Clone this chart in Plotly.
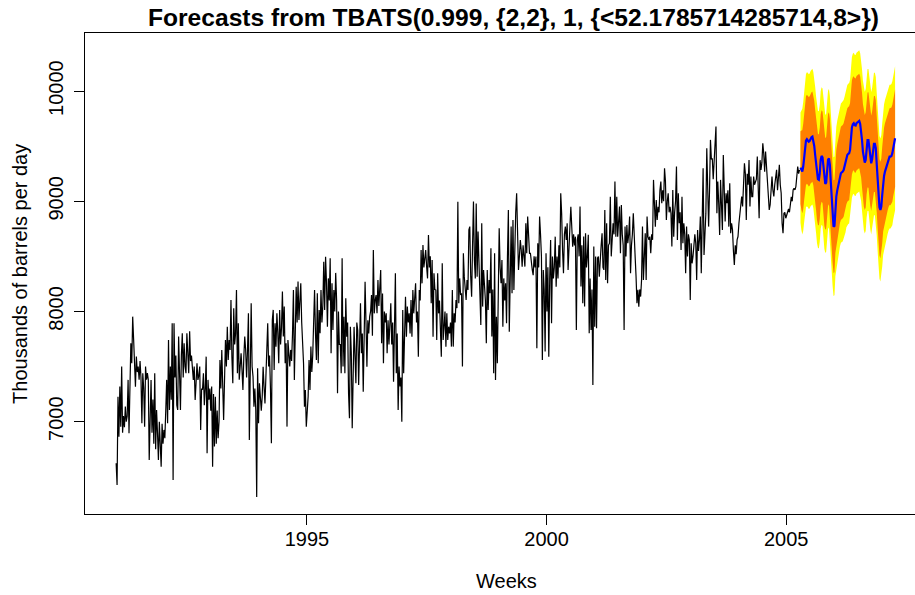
import plotly.graph_objects as go

# ---- data ----
t0 = 1991.02
freq = 52.18

gasoline = [
    6622, 6426, 7227, 6864, 7318, 6955, 7500, 6900, 7050, 6950, 7137, 7000, 7050,
    7379, 6895, 7300, 7711, 7530, 7953, 7750, 7530,
    7318, 7590, 7450, 7500, 7380, 7550,
    7400, 6985, 7440, 7300, 6955, 7500, 7380, 7440,
    7379, 6653, 7150, 7379, 6900, 7200, 6800,
    7439, 6750, 7106, 6900, 6653, 7000, 6850,
    6592, 6980, 6800, 6925, 6850, 7100,
    7379, 6985, 7741, 7106, 7500, 7200,
    7893, 6471, 7893, 7400, 7600, 7150,
    7106, 7772, 7300, 7106, 7600, 7802, 7400,
    7711, 7500, 7439, 7802, 7600, 7439, 7820, 7550, 7600, 7439,
    7379, 7500, 7197, 7350, 7530, 7379, 7420,
    7500, 6925, 7300, 7290, 7439, 7150, 7300,
    7590, 6713, 7379, 7200, 7300, 7100,
    7318, 6592, 7250, 6774, 7227, 6800, 7100, 6850, 7000,
    # 1993 - 1995
    7560, 7300, 7651, 7288, 7015, 7380,
    7741, 7500, 7862, 7560, 7741, 7650, 8104,
    7590, 7348, 8029, 7700, 7800,
    8195, 7440, 7893, 7380, 7560, 7620,
    7469, 7288, 7590, 7772, 7650, 7400,
    7651, 7983, 6834, 7700, 8074,
    7500, 7409, 7136, 7300, 7106,
    6316, 7484, 6985, 7348, 7200, 7100,
    7227, 7499, 7318, 7166, 7400,
    7711, 7893, 7500, 7600, 7300, 6804,
    7923, 8014, 7469, 7893, 7680,
    7983, 7800, 7530, 8014, 7700, 7850,
    8180, 7772, 8044, 7530, 7711,
    6955, 7741, 7620, 7500, 7651, 7550, 7800,
    8195, 7378, 8014, 8225, 7900,
    8271, 7923, 8150, 8256, 7900, 7700,
    7530, 7136, 7288, 6955, 7100,
    7227, 7560, 7288, 7681, 7450, 7600,
    7832, 8195, 7802, 7560,
    8165, 7530, 8014, 7802, 8195, 7900, 8050,
    8452, 8014, 8497, 8256, 7862, 8300, 8100,
    8482, 7620, 8256, 7832, 8195, 8000, 8350,
    8104, 7257, 8000, 7700,
    # 1995 - 1998
    7700, 7439, 8482, 7500, 7953, 7440,
    8120, 7770, 7900, 7257, 7030,
    7862, 7620, 6940, 7650, 7860,
    7600, 7348, 7900, 7830, 7333, 7700,
    8074, 7620, 7800, 7272, 8074,
    8270, 7900, 7499, 7920, 7800, 7953,
    8000, 8150, 7780, 8558, 7983, 8100,
    8149, 7983, 8286, 8050, 8200,
    8376, 7711, 8164, 7530, 8000, 7900,
    7983, 7620, 7920, 7700, 7880,
    8074, 7700, 7900, 7363, 7900,
    8346, 7439, 7800, 7106, 7500, 7320,
    7400, 7000, 8013, 7439, 7800,
    8134, 7771, 8044, 7900, 7983, 7800,
    8104, 7771, 8195, 7983, 8100,
    8255, 7900, 8000, 7590, 8195, 8100,
    8558, 8255, 8603, 8400, 8500,
    8558, 8407, 8300, 8694, 8400, 8500,
    8074, 8467, 7771, 8346, 8200,
    8195, 7741, 8346, 7983, 8100, 7900,
    7590, 8437, 7741, 7862, 8000,
    7681, 7983, 7741, 7862, 7800, 7900,
    7681, 8195, 7681, 7983, 7900,
    8104, 8030, 8996, 8074, 8300, 8150,
    # 1998 - 2000
    8165, 7500, 8528, 8316, 8225,
    8104, 8286, 8195, 8740, 8770,
    8316, 8134, 8600, 8997, 8467, 8300,
    8980, 8316, 8725, 8400, 8195,
    7878, 8800, 8044, 8377, 8200,
    8100, 7711, 8377, 8014, 8286, 8165,
    8573, 7772, 8200, 7439, 8528,
    7378, 7953, 7530, 8200, 8755, 8400,
    8256, 8467, 7862, 8300, 8100,
    8256, 7893, 8500, 8921, 7817, 8600,
    8770, 8165, 8831, 8195, 8600,
    8900, 9072, 8649, 8377, 8500,
    8649, 8558, 8407, 8600, 8500, 8407,
    8800, 8528, 8861, 8600, 8528,
    8528, 8407, 8377, 8330, 8500, 8400,
    8498, 7666, 8619, 8400, 8861,
    8700, 8500, 7560, 8377, 8200, 7636,
    8528, 8000, 8400, 7590, 8300,
    8649, 7893, 8498, 8300, 8400,
    8679, 8225, 8498, 8300, 8600, 8400,
    9072, 8891, 8550, 8347, 8700,
    8770, 8649, 8800, 8377, 8650,
    8770, 8951, 8649, 8588, 8700, 8600,
    8679, 7832, 8649, 8700, 8500,
    # 2000 - 2003
    8952, 8226, 8600, 8074, 8680,
    8044, 8710, 8400, 8500, 8695,
    7802, 8300, 7832, 8200, 7333, 8589,
    7862, 8498, 7848, 8483, 8498,
    8316, 8498, 8600, 8710, 8400, 8377,
    8921, 8286, 8800, 8256, 8600,
    8619, 9042, 8500, 8634, 8800, 8700,
    9179, 8679, 9042, 8679, 8900,
    8952, 8528, 8967, 8700, 8600, 7832,
    8770, 8498, 8785, 8619, 8700,
    8861, 8347, 8600, 8700, 8891, 8600, 8500,
    8316, 8074, 8196, 8044, 8200,
    8135, 8286, 8770, 8286, 8500,
    8710, 8286, 8861, 8679, 8650, 8679,
    8528, 8700, 8650, 9194, 8900,
    8770, 9012, 8831, 8950, 8900, 9100,
    9179, 8982, 9100, 9000, 9300,
    9179, 8831, 9000, 9073, 8900, 8950,
    8891, 8589, 9103, 8679, 8900,
    9000, 9315, 8649, 9073, 8800, 8900,
    8558, 9042, 8619, 8800, 8700,
    8347, 8770, 8498, 8700, 8650,
    8105, 8619, 8437, 8500, 8580, 8700,
    8619, 8286, 8740, 8550, 8650,
    # 2003 - 2005
    8861, 8347, 8952, 9300, 8513,
    8700, 8890, 9481, 9200,
    8770, 9100, 9557, 9380,
    9390, 9200, 9360, 9500,
    9678, 8891, 9179, 8980,
    8695, 9194, 8900, 8740,
    9420, 9000, 8816, 9073,
    8982, 9100, 8770, 9164,
    8710, 8800, 8740, 8550,
    8422, 8600, 8519, 8650,
    8680, 8800, 8900, 8952,
    9043, 8952, 9100, 9345,
    9250, 8831, 9250, 9150,
    9375, 8952, 9224, 9043,
    9043, 9224, 9150, 9180,
    9200, 9405, 9100, 8846,
    9373, 9285, 9350, 9526,
    9434, 9269, 9451, 9300,
    9100, 9012, 8921, 8970,
    9179, 9224, 9100, 9043,
    9150, 9200, 9285, 9100,
    9250, 9330, 9150, 9073,
    8800, 8710, 8891, 8900,
    8846, 8870, 8891, 8930,
    8900, 8960, 9040, 9000,
    9102, 9118, 9103, 9133, 9200, 9315, 9250, 9284,
]

fc_mean = [
    9305, 9284, 9269, 9315, 9405, 9496, 9550, 9563, 9556, 9541,
    9547, 9569, 9581, 9587, 9556, 9502, 9420, 9330, 9239, 9200,
    9194, 9254, 9375, 9411, 9399, 9300, 9194, 9157, 9169, 9284,
    9375, 9390, 9330, 9178, 9012, 8861, 8770, 8776, 8951, 9042,
    9097, 9133, 9169, 9224, 9254, 9263, 9269, 9284, 9315, 9351,
    9399, 9420, 9430, 9436, 9466, 9587, 9671, 9699, 9708, 9690,
    9687, 9708, 9714, 9723, 9729, 9702, 9647, 9556, 9451, 9381,
    9351, 9375, 9496, 9556, 9556, 9481, 9390, 9345, 9381, 9460,
    9520, 9520, 9481, 9339, 9194, 9042, 8945, 8921, 8951, 9057,
    9163, 9230, 9269, 9300, 9321, 9360, 9390, 9405, 9405, 9411,
    9436, 9490, 9541, 9572,
]

half95 = [
    500, 545, 570, 585, 595, 600, 605, 608, 610, 612,
    613, 614, 615, 616, 617, 618, 619, 620, 620, 621,
    622, 622, 623, 624, 624, 625, 625, 626, 626, 627,
    627, 628, 628, 629, 629, 630, 630, 630, 631, 631,
    632, 632, 632, 633, 633, 633, 634, 634, 634, 635,
    635, 636, 636, 637, 637, 638, 638, 639, 639, 640,
    640, 640, 641, 641, 641, 642, 642, 642, 643, 643,
    643, 644, 644, 644, 645, 645, 645, 646, 646, 646,
    647, 647, 647, 648, 648, 648, 649, 649, 649, 650,
    650, 650, 651, 651, 651, 652, 652, 652, 653, 653,
    653, 654, 654, 654,
]

half80 = [
    330, 360, 378, 388, 395, 398, 402, 404, 405, 406,
    407, 408, 408, 409, 410, 410, 411, 412, 412, 413,
    413, 414, 414, 415, 415, 416, 416, 416, 417, 417,
    418, 418, 418, 419, 419, 420, 420, 420, 421, 421,
    421, 422, 422, 422, 423, 423, 423, 424, 424, 424,
    425, 425, 425, 426, 426, 426, 427, 427, 427, 428,
    428, 428, 429, 429, 429, 430, 430, 430, 431, 431,
    431, 432, 432, 432, 433, 433, 433, 434, 434, 434,
    435, 435, 435, 436, 436, 436, 437, 437, 437, 438,
    438, 438, 439, 439, 439, 440, 440, 440, 441, 441,
    441, 442, 442, 442,
]

x_ticks = [1995, 2000, 2005]
y_ticks = [7000, 8000, 9000, 10000]
title_text = "Forecasts from TBATS(0.999, {2,2}, 1, {<52.1785714285714,8>})"
x_title = "Weeks"
y_title = "Thousands of barrels per day"

# ---- derived ----
n = len(gasoline)
t_hist = [t0 + i / freq for i in range(n)]
t_fc = [t0 + (n + j) / freq for j in range(len(fc_mean))]
hi95 = [m + w for m, w in zip(fc_mean, half95)]
lo95 = [m - w for m, w in zip(fc_mean, half95)]
hi80 = [m + w for m, w in zip(fc_mean, half80)]
lo80 = [m - w for m, w in zip(fc_mean, half80)]

FONT = "Liberation Sans, Arial, Helvetica, sans-serif"

fig = go.Figure()
fig.add_trace(go.Scatter(x=t_hist, y=gasoline, mode="lines",
                         line=dict(color="black", width=1.2), showlegend=False,
                         hoverinfo="skip"))
fig.add_trace(go.Scatter(x=t_fc + t_fc[::-1], y=hi95 + lo95[::-1], mode="lines",
                         fill="toself", fillcolor="#FFFF00",
                         line=dict(width=0, color="#FFFF00"), showlegend=False,
                         hoverinfo="skip"))
fig.add_trace(go.Scatter(x=t_fc + t_fc[::-1], y=hi80 + lo80[::-1], mode="lines",
                         fill="toself", fillcolor="#FF8000",
                         line=dict(width=0, color="#FF8000"), showlegend=False,
                         hoverinfo="skip"))
fig.add_trace(go.Scatter(x=t_fc, y=fc_mean, mode="lines",
                         line=dict(color="#0000FF", width=2.2), showlegend=False,
                         hoverinfo="skip"))

fig.update_layout(
    width=915, height=595,
    margin=dict(l=85, r=0, t=33, b=81, pad=0),
    paper_bgcolor="white", plot_bgcolor="white",
    font=dict(family=FONT, size=20, color="black"),
    xaxis=dict(range=[1990.37, 2007.687], tickvals=x_ticks,
               ticktext=[str(v) for v in x_ticks],
               ticks="outside", ticklen=10, tickwidth=1.2, tickcolor="black",
               ticklabelstandoff=-3,
               showline=True, linecolor="black", linewidth=1.2, mirror=True,
               showgrid=False, zeroline=False,
               tickfont=dict(family=FONT, size=20, color="black")),
    yaxis=dict(range=[6162, 10527], tickvals=y_ticks,
               ticktext=[str(v) for v in y_ticks], tickangle=-90,
               ticks="outside", ticklen=10, tickwidth=1.2, tickcolor="black",
               ticklabelstandoff=3,
               showline=True, linecolor="black", linewidth=1.2, mirror=False,
               showgrid=False, zeroline=False,
               tickfont=dict(family=FONT, size=20, color="black")),
    annotations=[
        dict(text="<b>" + title_text + "</b>", xref="paper", yref="paper",
             x=0.516, y=1.032, xanchor="center", yanchor="middle",
             showarrow=False, font=dict(family=FONT, size=24.6, color="black")),
        dict(text=x_title, xref="paper", yref="paper",
             x=0.508, y=-0.140, xanchor="center", yanchor="middle",
             showarrow=False, font=dict(family=FONT, size=20, color="black")),
        dict(text=y_title, xref="paper", yref="paper", textangle=-90,
             x=-0.079, y=0.5, xanchor="center", yanchor="middle",
             showarrow=False, font=dict(family=FONT, size=20, color="black")),
    ],
)

fig.write_html("out.html",
               config={"displayModeBar": False},
               post_script="document.body.style.margin='0';document.body.style.padding='0';")
